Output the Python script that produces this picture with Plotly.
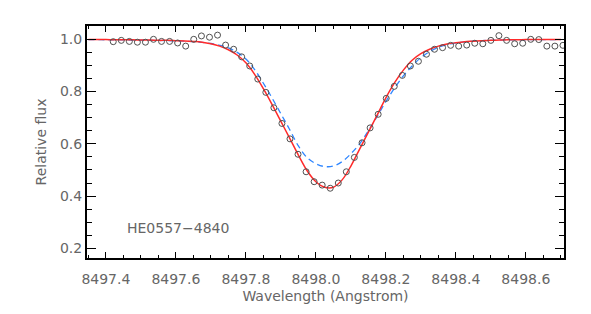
import plotly.graph_objects as go

# Observed spectrum (wavelength in Angstrom, relative flux)
obs_wave = [8497.421, 8497.444, 8497.467, 8497.490, 8497.513, 8497.536, 8497.559, 8497.582,
            8497.605, 8497.628, 8497.651, 8497.673, 8497.696, 8497.719, 8497.742, 8497.765,
            8497.788, 8497.811, 8497.834, 8497.857, 8497.880, 8497.903, 8497.926, 8497.949,
            8497.972, 8497.995, 8498.018, 8498.041, 8498.064, 8498.087, 8498.110, 8498.132,
            8498.155, 8498.178, 8498.201, 8498.224, 8498.247, 8498.270, 8498.293, 8498.316,
            8498.339, 8498.362, 8498.385, 8498.408, 8498.431, 8498.454, 8498.477, 8498.500,
            8498.523, 8498.545, 8498.568, 8498.591, 8498.614, 8498.637, 8498.660, 8498.683,
            8498.706]
obs_flux = [0.991, 0.996, 0.992, 0.989, 0.989, 1.000, 0.992, 0.992,
            0.986, 0.974, 1.000, 1.013, 1.008, 1.016, 0.978, 0.962,
            0.933, 0.898, 0.848, 0.797, 0.738, 0.678, 0.619, 0.560,
            0.493, 0.455, 0.442, 0.430, 0.450, 0.493, 0.548, 0.604,
            0.661, 0.713, 0.774, 0.820, 0.862, 0.898, 0.916, 0.943,
            0.962, 0.968, 0.977, 0.974, 0.978, 0.985, 0.983, 0.996,
            1.014, 0.996, 0.983, 0.985, 1.000, 0.999, 0.974, 0.974,
            0.977]

# Model curves sampled on a wavelength grid
model_wave = [8497.350, 8497.375, 8497.400, 8497.425, 8497.450, 8497.475, 8497.500, 8497.525,
              8497.550, 8497.575, 8497.600, 8497.625, 8497.650, 8497.675, 8497.700, 8497.725,
              8497.750, 8497.775, 8497.800, 8497.825, 8497.850, 8497.875, 8497.900, 8497.925,
              8497.950, 8497.975, 8498.000, 8498.025, 8498.050, 8498.075, 8498.100, 8498.125,
              8498.150, 8498.175, 8498.200, 8498.225, 8498.250, 8498.275, 8498.300, 8498.325,
              8498.350, 8498.375, 8498.400, 8498.425, 8498.450, 8498.475, 8498.500, 8498.525,
              8498.550, 8498.575, 8498.600, 8498.625, 8498.650, 8498.675, 8498.700]
red_flux = [0.999, 0.999, 0.999, 0.998, 0.998, 0.998, 0.997, 0.997,
            0.996, 0.996, 0.995, 0.994, 0.992, 0.989, 0.983, 0.974,
            0.960, 0.940, 0.910, 0.866, 0.811, 0.750, 0.686, 0.622,
            0.557, 0.497, 0.455, 0.434, 0.434, 0.462, 0.515, 0.580,
            0.645, 0.710, 0.776, 0.834, 0.882, 0.920, 0.945, 0.962,
            0.974, 0.982, 0.987, 0.991, 0.993, 0.995, 0.996, 0.997,
            0.998, 0.998, 0.999, 0.999, 0.999, 0.999, 0.999]
blue_flux = [0.999, 0.999, 0.998, 0.998, 0.998, 0.997, 0.997, 0.996,
             0.996, 0.995, 0.994, 0.993, 0.991, 0.988, 0.984, 0.977,
             0.967, 0.950, 0.925, 0.884, 0.832, 0.775, 0.715, 0.655,
             0.592, 0.547, 0.524, 0.513, 0.515, 0.532, 0.562, 0.600,
             0.650, 0.705, 0.762, 0.814, 0.860, 0.898, 0.930, 0.953,
             0.969, 0.980, 0.986, 0.990, 0.993, 0.995, 0.996, 0.997,
             0.998, 0.998, 0.998, 0.999, 0.999, 0.999, 0.999]

x_ticks = [8497.4, 8497.6, 8497.8, 8498.0, 8498.2, 8498.4, 8498.6]
y_ticks = [0.2, 0.4, 0.6, 0.8, 1.0]
star_label = "HE0557\u22124840"

FONT = "DejaVu Sans"
TXT = "#666666"
FS = 14

fig = go.Figure()
fig.add_trace(go.Scatter(x=model_wave, y=blue_flux, mode="lines", line_shape="spline",
                         line=dict(color="#2f86ff", width=1.3, dash="6px,4px"),
                         showlegend=False, hoverinfo="skip"))
fig.add_trace(go.Scatter(x=model_wave, y=red_flux, mode="lines", line_shape="spline",
                         line=dict(color="#ff2a2a", width=1.5),
                         showlegend=False, hoverinfo="skip"))
fig.add_trace(go.Scatter(x=obs_wave, y=obs_flux, mode="markers",
                         marker=dict(symbol="circle-open", size=6, color="#505050",
                                     line=dict(width=1, color="#505050")),
                         showlegend=False, cliponaxis=True))

fig.add_annotation(x=8497.454, y=0.278, text=star_label, showarrow=False,
                   xanchor="left", yanchor="middle",
                   font=dict(family=FONT, size=FS, color=TXT))

fig.update_layout(
    width=591, height=314,
    margin=dict(l=87, r=27, t=26, b=56),
    paper_bgcolor="white", plot_bgcolor="white",
    font=dict(family=FONT, size=FS, color=TXT),
    xaxis=dict(range=[8497.346, 8498.709], tickvals=x_ticks,
               ticktext=[f"{v:.1f}" for v in x_ticks],
               ticks="inside", ticklen=6, tickwidth=1, tickcolor="black",
               showline=True, linewidth=2, linecolor="black", mirror="ticks",
               showgrid=False, zeroline=False, ticklabelstandoff=7,
               minor=dict(dtick=0.05, tick0=8497.4, ticks="inside", ticklen=3,
                          tickcolor="black", showgrid=False),
               title=dict(text="Wavelength (Angstrom)", standoff=5,
                          font=dict(family=FONT, size=FS, color=TXT)),
               tickfont=dict(family=FONT, size=FS, color=TXT)),
    yaxis=dict(range=[0.163, 1.051], tickvals=y_ticks,
               ticktext=[f"{v:.1f}" for v in y_ticks],
               ticks="inside", ticklen=9, tickwidth=1, tickcolor="black",
               showline=True, linewidth=2, linecolor="black", mirror="ticks",
               showgrid=False, zeroline=False,
               minor=dict(dtick=0.05, tick0=0.2, ticks="inside", ticklen=5,
                          tickcolor="black", showgrid=False),
               title=dict(text="Relative flux", standoff=10,
                          font=dict(family=FONT, size=FS, color=TXT)),
               tickfont=dict(family=FONT, size=FS, color=TXT)),
)

fig.write_html("out.html", config={"displayModeBar": False},
               post_script="document.body.style.margin='0';document.body.style.padding='0';")
